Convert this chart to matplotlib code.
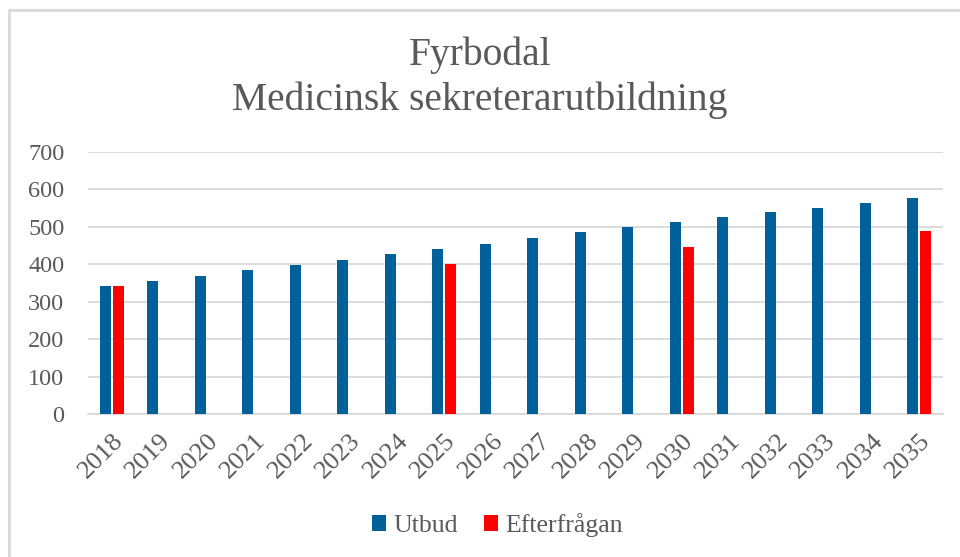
import numpy as np
import matplotlib.pyplot as plt
from matplotlib.patches import Rectangle

# Utbud och efterfrågan per år
years = [str(y) for y in range(2018, 2036)]
utbud = [342, 356, 369, 383, 398, 412, 426, 441, 455, 471, 485, 499,
         512, 525, 538, 551, 563, 576]
efterfragan = [341, None, None, None, None, None, None, 400, None, None,
               None, None, 445, None, None, None, None, 488]

blue = '#00609A'
red = '#FF0000'
text_grey = '#595959'
grid_grey = '#D9D9D9'

plt.rcParams['font.family'] = ['Liberation Serif']

fig = plt.figure(figsize=(9.6, 5.57), dpi=100)
ax = fig.add_axes([88 / 960, 1 - 414 / 557, (943 - 88) / 960, (414 - 151.7) / 557])

x = np.arange(len(years))
w = 0.225
off = 0.135
ax.bar(x - off, utbud, width=w, color=blue, label='Utbud', zorder=3)
ex = [i for i, v in enumerate(efterfragan) if v is not None]
ev = [v for v in efterfragan if v is not None]
ax.bar(np.array(ex) + off, ev, width=w, color=red, label='Efterfrågan', zorder=3)

ax.set_xlim(-0.5, len(years) - 0.5)
ax.set_ylim(0, 700)
ax.set_yticks(range(0, 701, 100))
ax.set_xticks(x)
ax.set_xticklabels(years, rotation=45, ha='right', va='top', rotation_mode='anchor')
ax.tick_params(axis='y', length=0, labelsize=17.5, colors=text_grey, pad=17)
ax.tick_params(axis='x', length=0, labelsize=19, colors=text_grey, pad=11)
ax.yaxis.grid(True, color=grid_grey, linewidth=1.3, zorder=0)
for s in ['top', 'right', 'left']:
    ax.spines[s].set_visible(False)
ax.spines['bottom'].set_color(grid_grey)
ax.spines['bottom'].set_linewidth(1.3)

fig.text(0.5, 1 - 55 / 557, 'Fyrbodal', ha='center', va='center',
         fontsize=28.5, color=text_grey)
fig.text(0.5, 1 - 100 / 557, 'Medicinsk sekreterarutbildning', ha='center',
         va='center', fontsize=28.5, color=text_grey)

fig.legend(loc='center', bbox_to_anchor=(0.518, 1 - 525 / 557), ncol=2,
           frameon=False, fontsize=18.5, handlelength=0.55, handleheight=0.55,
           handletextpad=0.3, columnspacing=1.0, labelcolor=text_grey)

# ram runt diagrammet
fig.patches.append(Rectangle((9 / 960, -0.1), 1.2, 1 - 10 / 557 + 0.1,
                             transform=fig.transFigure, fill=False,
                             edgecolor=grid_grey, linewidth=2))

fig.savefig('out.png', dpi=100)
